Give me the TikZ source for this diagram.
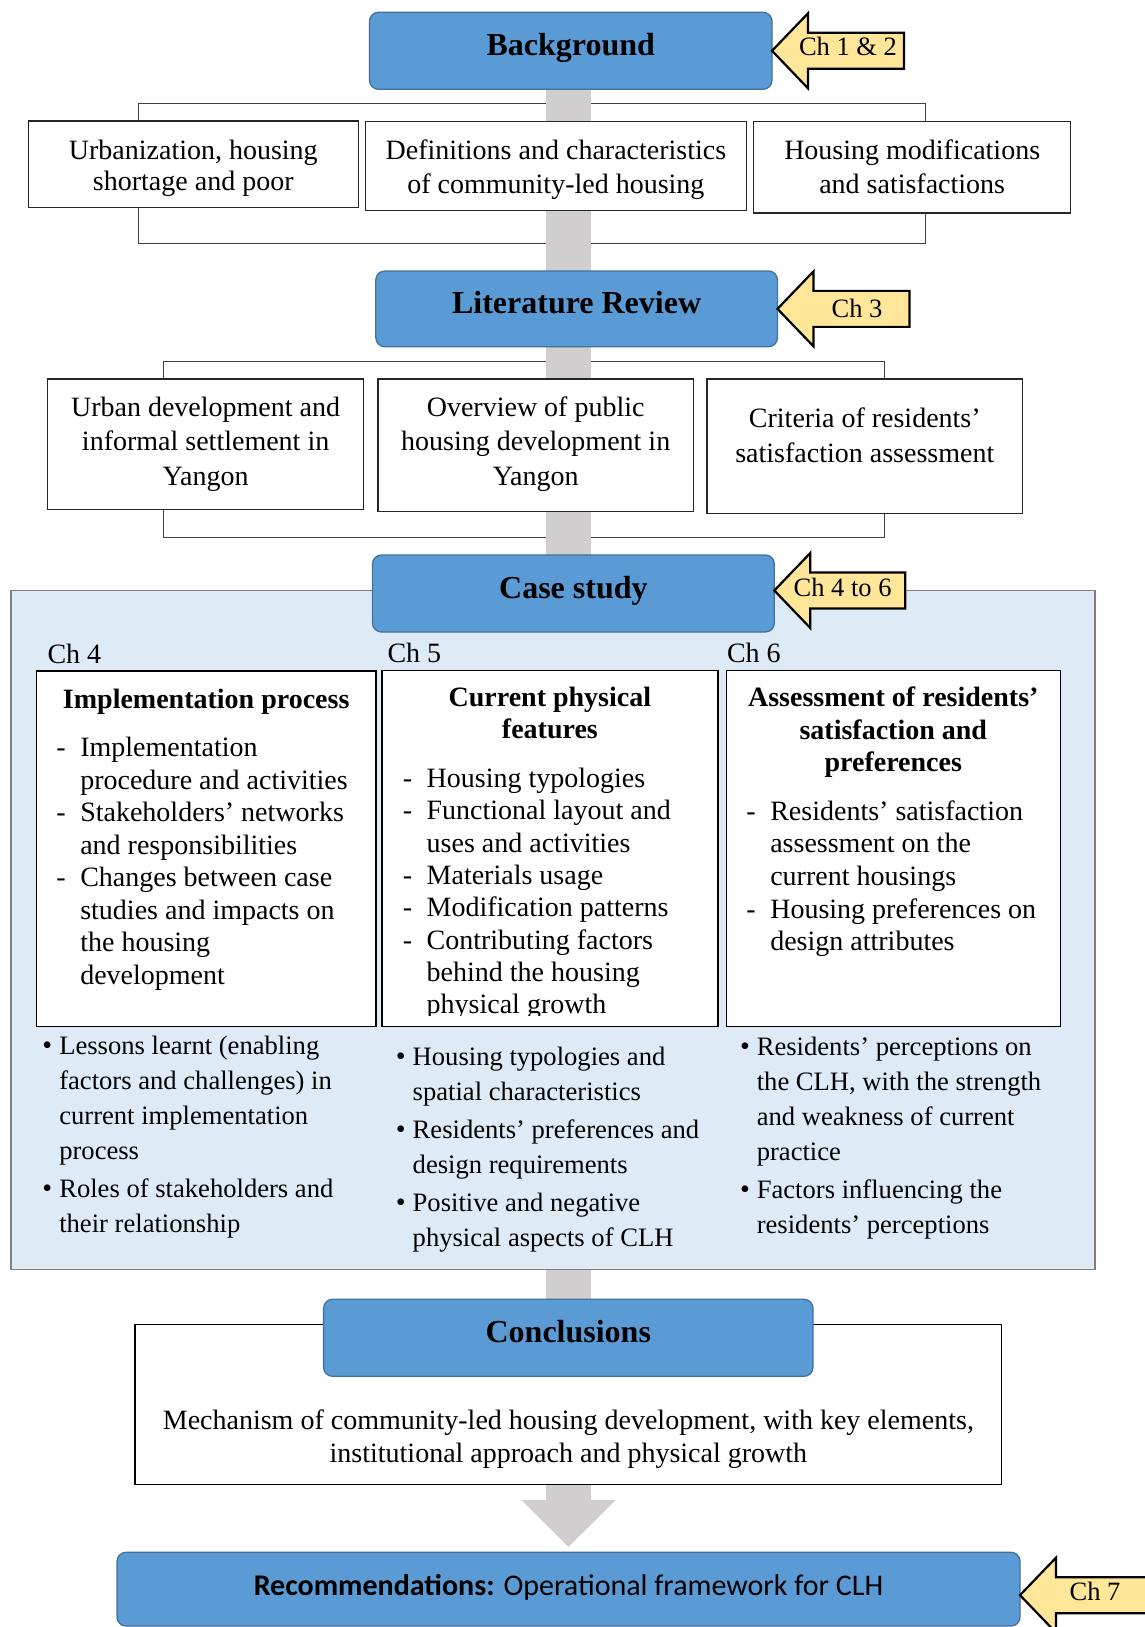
\documentclass[tikz,border=0pt]{standalone}
\usepackage{fontspec}
\setmainfont{Liberation Serif}
\newfontfamily\clhsans{Carlito}
\usetikzlibrary{arrows.meta,fit}

\definecolor{boxblue}{HTML}{5B9BD5}
\definecolor{boxblueline}{HTML}{41719C}
\definecolor{chyellow}{HTML}{FFE699}
\definecolor{flowgray}{HTML}{D0CECE}
\definecolor{panelblue}{HTML}{DEEBF7}
\definecolor{panelline}{HTML}{7F7F7F}

\pgfdeclarelayer{paper}
\pgfdeclarelayer{back}
\pgfdeclarelayer{flowlayer}
\pgfsetlayers{paper,back,flowlayer,main}

% centred and left-aligned line blocks; the block's baseline is its first line
\newcommand\cblock[2]{\vtop{\baselineskip=#1pt\lineskiplimit=-1000pt\lineskip=0pt\halign{\hfil##\hfil\cr#2\crcr}}}
\newcommand\lblock[2]{\vtop{\baselineskip=#1pt\lineskiplimit=-1000pt\lineskip=0pt\halign{##\hfil\cr#2\crcr}}}
\newcommand\dashitem{\llap{-\hskip 14.5pt}}
\newcommand\bulitem{\llap{\fontsize{28}{30}\selectfont•\hskip 7pt}}
\newcommand\parskipgap{\noalign{\vskip 2.4pt}}

% yellow chapter tag: an arrow pointing left, tip at #1, body length #2
\newcommand\chapterarrow[2]{%
  \draw[chtag] (#1) -- ++(36,-37.5) -- ++(0,19.5) -- ++(#2,0) -- ++(0,36)
    -- ++(-#2,0) -- ++(0,19.5) -- cycle;}

\tikzset{
  every node/.style={inner sep=0pt, outer sep=0pt},
  body/.style={font=\fontsize{28}{34}\selectfont},
  outcome/.style={font=\fontsize{26.6}{34}\selectfont},
  headtext/.style={font=\fontsize{32}{38}\selectfont\bfseries},
  boldbody/.style={font=\fontsize{28}{32}\selectfont\bfseries},
  tagtext/.style={font=\fontsize{26.5}{30}\selectfont},
  bluebox/.style={draw=boxblueline, fill=boxblue, line width=1.3pt, rounded corners=9pt},
  plainbox/.style={draw=black!85, fill=white, line width=1.3pt},
  bracket/.style={draw=black!75, line width=1pt},
  panel/.style={draw=panelline, fill=panelblue, line width=1.8pt},
  casebox/.style={draw=black, fill=white, line width=1.4pt},
  chtag/.style={draw=black, fill=chyellow, line width=2.2pt, line join=miter},
  flow/.style={draw=flowgray, line width=45pt, -{Triangle[width=91.5pt,length=47pt]}},
}

\begin{document}
\begin{tikzpicture}[x=1pt,y=-1pt]
\useasboundingbox (0,0) rectangle (1145,1627);
\begin{pgfonlayer}{paper}
  \fill[white] (0,0) rectangle (1145,1627);
\end{pgfonlayer}
\clip (0,0) rectangle (1145,1627);

% ---------------- Background ----------------
\node[bluebox, fit={(369.5,12.3) (772,89.3)}] (bg) {};
\node[headtext, anchor=base] (bgt) at (570.7,56) {Background};
\chapterarrow{bg.east}{96}
\node[tagtext, anchor=base] (ch12) at (848,55.5) {Ch 1 \& 2};

\begin{pgfonlayer}{back}
  \node[bracket, fit={(138.3,103.3) (925,243.3)}] (br1) {};
  \node[bracket, fit={(163,361.2) (884.5,537.7)}] (br2) {};
\end{pgfonlayer}

\node[plainbox, fit={(28.3,121) (358.3,207.2)}] (s1a) {};
\node[plainbox, fit={(365.3,121.3) (746.5,210.8)}] (s1b) {};
\node[plainbox, fit={(753.8,121.5) (1070.5,213)}] (s1c) {};
\node[body, anchor=base] (s1at) at (193.3,160) {\cblock{31}{Urbanization, housing\cr shortage and poor}};
\node[body, anchor=base] (s1bt) at (555.9,159) {\cblock{34.5}{Definitions and characteristics\cr of community-led housing}};
\node[body, anchor=base] (s1ct) at (912.2,159) {\cblock{34.5}{Housing modifications\cr and satisfactions}};

% ---------------- Literature review ----------------
\node[bluebox, fit={(375.8,271) (777.5,346.7)}] (lr) {};
\node[headtext, anchor=base] (lrt) at (576.6,313) {Literature Review};
\chapterarrow{lr.east}{96}
\node[tagtext, anchor=base] (ch3) at (857,317.3) {Ch 3};

\node[plainbox, fit={(47.8,379) (363.3,509.7)}] (s2a) {};
\node[plainbox, fit={(377.9,379) (693.4,511.8)}] (s2b) {};
\node[plainbox, fit={(707,379) (1022.5,513.8)}] (s2c) {};
\node[body, anchor=base] (s2at) at (205.6,416) {\cblock{34.8}{Urban development and\cr informal settlement in\cr Yangon}};
\node[body, anchor=base] (s2bt) at (535.7,416) {\cblock{34.8}{Overview of public\cr housing development in\cr Yangon}};
\node[body, anchor=base] (s2ct) at (864.8,427.5) {\cblock{35}{Criteria of residents’\cr satisfaction assessment}};

% ---------------- Case study ----------------
\node[panel, fit={(10.7,590.5) (1095,1269.5)}] (panel) {};
\node[bluebox, fit={(372.5,555) (774.3,632)}] (cs) {};
\node[headtext, anchor=base] (cst) at (573.4,598.5) {Case study};
\chapterarrow{[yshift=3pt]cs.east}{95}
\node[tagtext, anchor=base] (ch46) at (842.6,596) {Ch 4 to 6};

\node[body, anchor=base west] (ch4) at (47.5,663.5) {Ch 4};
\node[body, anchor=base west] (ch5) at (387.5,662) {Ch 5};
\node[body, anchor=base west] (ch6) at (727,662) {Ch 6};

\node[casebox, fit={(36.4,670.8) (376,1026.7)}] (ca) {};
\node[casebox, fit={(382,670.3) (717.8,1026.7)}] (cb) {};
\node[casebox, fit={(726.3,670.3) (1060.4,1026.7)}] (cc) {};

\node[boldbody, anchor=base] (cat) at (206.2,708.5) {Implementation process};
\node[body, anchor=base west] (cai) at (80.3,756.5) {\lblock{32.5}{%
  \dashitem Implementation\cr procedure and activities\cr
  \dashitem Stakeholders’ networks\cr and responsibilities\cr
  \dashitem Changes between case\cr studies and impacts on\cr the housing\cr development}};

\node[boldbody, anchor=base] (cbt) at (549.9,706.5) {\cblock{32}{Current physical\cr features}};
\begin{scope}
  \clip (382,670.3) rectangle (717.8,1015.5);
  \node[body, anchor=base west] (cbi) at (426.7,787.5) {\lblock{32.3}{%
    \dashitem Housing typologies\cr
    \dashitem Functional layout and\cr uses and activities\cr
    \dashitem Materials usage\cr
    \dashitem Modification patterns\cr
    \dashitem Contributing factors\cr behind the housing\cr physical growth}};
\end{scope}

\node[boldbody, anchor=base] (cct) at (893.3,706.5) {\cblock{32.5}{Assessment of residents’\cr satisfaction and\cr preferences}};
\node[body, anchor=base west] (cci) at (770.3,820) {\lblock{32.7}{%
  \dashitem Residents’ satisfaction\cr assessment on the\cr current housings\cr
  \dashitem Housing preferences on\cr design attributes}};

\node[outcome, anchor=base west] (oa) at (59.3,1054) {\lblock{35.3}{%
  \bulitem Lessons learnt (enabling\cr factors and challenges) in\cr current implementation\cr process\cr\parskipgap
  \bulitem Roles of stakeholders and\cr their relationship}};
\node[outcome, anchor=base west] (ob) at (412.7,1065.5) {\lblock{35.3}{%
  \bulitem Housing typologies and\cr spatial characteristics\cr\parskipgap
  \bulitem Residents’ preferences and\cr design requirements\cr\parskipgap
  \bulitem Positive and negative\cr physical aspects of CLH}};
\node[outcome, anchor=base west] (oc) at (756.8,1055) {\lblock{35.3}{%
  \bulitem Residents’ perceptions on\cr the CLH, with the strength\cr and weakness of current\cr practice\cr\parskipgap
  \bulitem Factors influencing the\cr residents’ perceptions}};

% ---------------- Conclusions ----------------
\node[plainbox, draw=black, fit={(135,1324.3) (1001.8,1484.3)}] (cl) {};
\node[bluebox, fit={(323.6,1299.3) (813,1376.3)}] (clb) {};
\node[headtext, anchor=base] (clt) at (568.3,1342) {Conclusions};
\node[body, anchor=base] (clm) at (568.4,1429) {\cblock{33.5}{Mechanism of community-led housing development, with key elements,\cr institutional approach and physical growth}};

% ---------------- Recommendations ----------------
\node[bluebox, fit={(117,1552.3) (1020,1626)}] (rec) {};
\node[anchor=base, font=\clhsans\fontsize{30}{36}\selectfont] (rect) at (568.5,1595) {\textbf{Recommendations:} Operational framework for CLH};
\chapterarrow{[yshift=-6pt]rec.east}{130}
\node[tagtext, anchor=base] (ch7) at (1095,1600) {Ch 7};

% ---------------- flow arrow behind the stages ----------------
\begin{pgfonlayer}{flowlayer}
  \coordinate (flowtip) at (568.5,1547);
  \draw[flow] (bg.south -| flowtip) -- (flowtip);
\end{pgfonlayer}
\end{tikzpicture}
\end{document}
